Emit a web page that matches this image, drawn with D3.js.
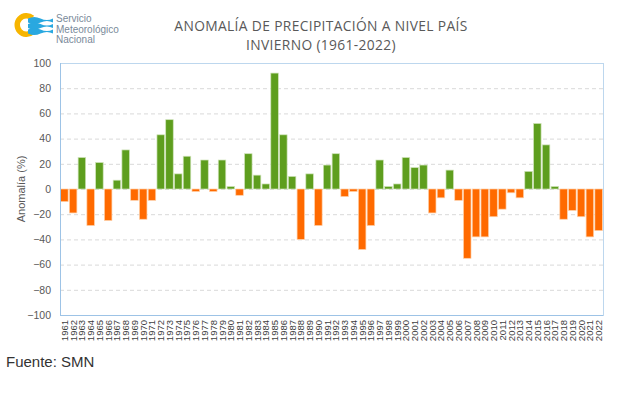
<!DOCTYPE html>
<html>
<head>
<meta charset="utf-8">
<script src="https://cdn.jsdelivr.net/npm/d3@7"></script>
<style>
html,body{margin:0;padding:0;background:#fff;}
svg{display:block;}
</style>
</head>
<body>
<svg id="chart" width="634" height="394"></svg>
<script>
const years = d3.range(1961, 2023).map(String);
const anomalies = [
 -10, -19, 25, -29, 21, -25, 7, 31, -9, -24,
 -9, 43, 55, 12, 26, -2, 23, -2, 23, 2,
 -5, 28, 11, 4, 92, 43, 10, -40, 12, -29,
 19, 28, -6, -2, -48, -29, 23, 2, 4, 25,
 17, 19, -19, -7, 15, -9, -55, -38, -38, -22,
 -16, -3, -7, 14, 52, 35, 2, -24, -17, -22,
 -38, -33
];
const yTicks = [-100, -80, -60, -40, -20, 0, 20, 40, 60, 80, 100];
const titleLines = ["ANOMALÍA DE PRECIPITACIÓN A NIVEL PAÍS", "INVIERNO (1961-2022)"];
const orgLines = ["Servicio", "Meteorológico", "Nacional"];

const svg = d3.select("#chart");
const m = {left: 60, right: 603, top: 63, bottom: 315};

const x = d3.scaleBand().domain(years).range([m.left, m.right]).paddingInner(0.14).paddingOuter(0.07);
const y = d3.scaleLinear().domain([-100, 100]).range([m.bottom, m.top]);

// gridlines
svg.append("g").selectAll("line").data(yTicks.filter(t => t !== 100 && t !== -100)).join("line")
  .attr("x1", m.left).attr("x2", m.right)
  .attr("y1", d => y(d) + 0.5).attr("y2", d => y(d) + 0.5)
  .attr("stroke", "#d9d9d9").attr("stroke-width", 1).attr("stroke-dasharray", "4,3");

// frame
svg.append("rect").attr("x", m.left + 0.5).attr("y", m.top + 0.5)
  .attr("width", m.right - m.left).attr("height", m.bottom - m.top)
  .attr("fill", "none").attr("stroke", "#bdd7ee").attr("stroke-width", 1);

// bars
svg.append("g").selectAll("rect").data(years).join("rect")
  .attr("x", d => x(d))
  .attr("width", x.bandwidth())
  .attr("y", (d, i) => y(Math.max(0, anomalies[i])))
  .attr("height", (d, i) => Math.abs(y(anomalies[i]) - y(0)))
  .attr("fill", (d, i) => anomalies[i] >= 0 ? "#5e9e1e" : "#ff6a00")
  .attr("stroke", (d, i) => anomalies[i] >= 0 ? "#cfe3b8" : "#ffd0a8")
  .attr("stroke-width", 0.7);

// y axis
const yAxis = d3.axisLeft(y).tickValues(yTicks).tickSize(0).tickPadding(9);
const ga = svg.append("g").attr("transform", `translate(${m.left},0)`).call(yAxis);
ga.select(".domain").attr("stroke", "#9dc3e6");
ga.selectAll("text").attr("font-family", "Liberation Sans, Arial, sans-serif")
  .attr("font-size", 10.5).attr("fill", "#595959");

// left / bottom axis lines (blue)
svg.append("line").attr("x1", m.left + 0.5).attr("x2", m.left + 0.5)
  .attr("y1", m.top).attr("y2", m.bottom).attr("stroke", "#9dc3e6");
svg.append("line").attr("x1", m.left).attr("x2", m.right)
  .attr("y1", m.bottom + 0.5).attr("y2", m.bottom + 0.5).attr("stroke", "#9dc3e6");

// x axis labels
const xAxis = d3.axisBottom(x).tickSize(0).tickPadding(0);
const gx = svg.append("g").attr("transform", `translate(0,${m.bottom})`).call(xAxis);
gx.select(".domain").remove();
gx.selectAll("text")
  .attr("font-family", "Liberation Sans, Arial, sans-serif")
  .attr("font-size", 9.5).attr("fill", "#404040")
  .attr("text-anchor", "end")
  .attr("dy", null)
  .attr("transform", "translate(3.5,5) rotate(-90)");

// y label
svg.append("text").attr("transform", "translate(25,189) rotate(-90)")
  .attr("text-anchor", "middle")
  .attr("font-family", "Liberation Sans, Arial, sans-serif")
  .attr("font-size", 11).attr("fill", "#595959").text("Anomalía (%)");

// title
svg.selectAll("text.title").data(titleLines).join("text").attr("class", "title")
  .attr("x", 321).attr("y", (d, i) => 31 + i * 19)
  .attr("text-anchor", "middle")
  .attr("font-family", "Open Sans, Noto Sans, sans-serif")
  .attr("font-size", 13.8).attr("letter-spacing", 0.35).attr("fill", "#595959").text(d => d);

// logo
const logo = svg.append("g");
logo.append("path").attr("transform", "translate(26.5,25)")
  .attr("d", d3.arc().innerRadius(6.5).outerRadius(12).startAngle(Math.PI * 0.78).endAngle(Math.PI * 2.22))
  .attr("fill", "#f7b500");
const wave = (y0) => `M28,${y0} q6,-3 12.5,0 t12.5,0 l0,4 q-6,-3 -12.5,0 t-12.5,0 z`;
[18.6, 24.0, 29.4].forEach(w => logo.append("path").attr("d", wave(w)).attr("fill", "#29a8e0"));
logo.selectAll("text").data(orgLines).join("text")
  .attr("x", 56).attr("y", (d, i) => 22 + i * 10.5)
  .attr("font-family", "Liberation Sans, Arial, sans-serif")
  .attr("font-size", 10).attr("fill", "#7a8a9a").text(d => d);

// source
svg.append("text").attr("x", 6).attr("y", 367)
  .attr("font-family", "Liberation Sans, Arial, sans-serif")
  .attr("font-size", 15).attr("fill", "#333").text("Fuente: SMN");
</script>
</body>
</html>
